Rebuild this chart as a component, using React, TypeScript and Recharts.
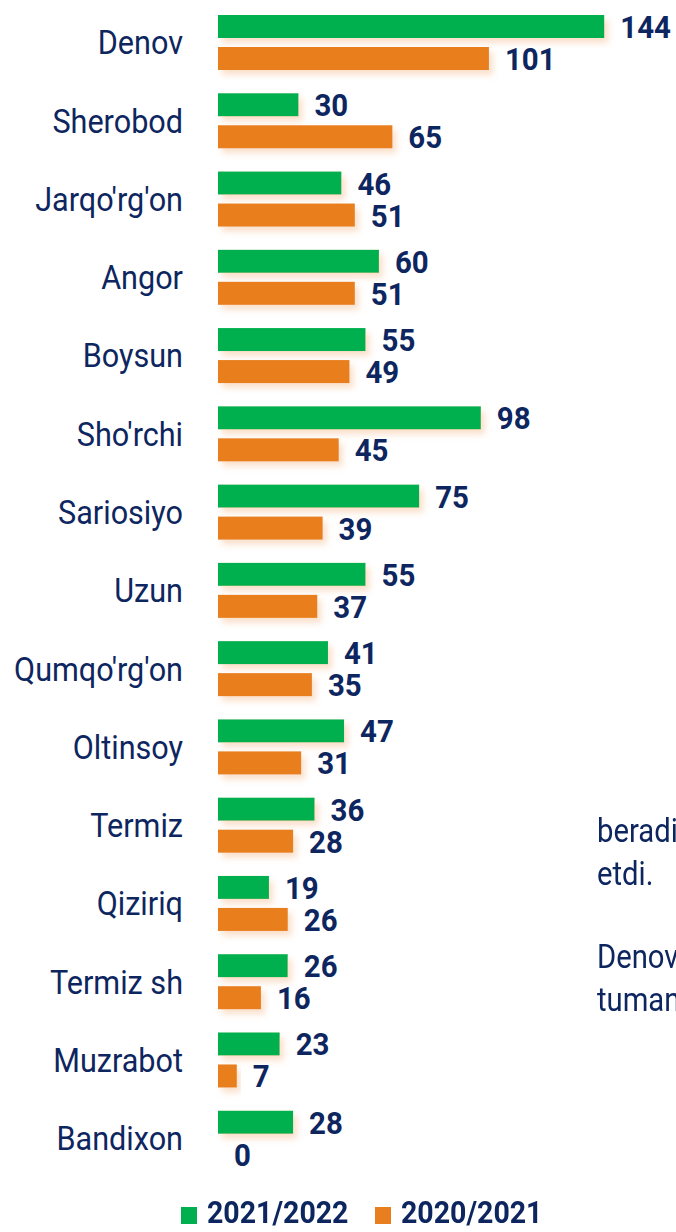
import React from 'react';
import { BarChart, Bar, XAxis, YAxis, LabelList, Legend } from 'recharts';

// district names, top to bottom
const districts = [
  'Denov', 'Sherobod', "Jarqo'rg'on", 'Angor', 'Boysun', "Sho'rchi", 'Sariosiyo', 'Uzun',
  "Qumqo'rg'on", 'Oltinsoy', 'Termiz', 'Qiziriq', 'Termiz sh', 'Muzrabot', 'Bandixon',
];
const values2122 = [144, 30, 46, 60, 55, 98, 75, 55, 41, 47, 36, 19, 26, 23, 28];
const values2021 = [101, 65, 51, 51, 49, 45, 39, 37, 35, 31, 28, 26, 16, 7, 0];
const seriesNames = ['2021/2022', '2020/2021'];

const GREEN = '#00B050';
const ORANGE = '#E97E1E';
const NAVY = '#0E2660';
const FONT = 'Roboto, "Noto Sans", sans-serif';

const data = districts.map((name, i) => ({
  name,
  cur: values2122[i],
  prev: values2021[i],
}));

// condensed look: Roboto squeezed horizontally
const CategoryTick = (props: any) => {
  const { x, y, payload } = props;
  return (
    <g transform={`translate(${x},${y}) scale(0.9,1)`}>
      <text x={0} y={0} dy="0.36em" textAnchor="end" fill={NAVY} fontFamily={FONT} fontSize={34}>
        {payload.value}
      </text>
    </g>
  );
};

const ValueLabel = (props: any) => {
  const { x, y, width, height, value } = props;
  const w = width < 1.5 ? 0 : width;
  const lx = x + w + 16;
  const ly = y + height / 2;
  return (
    <g transform={`translate(${lx},${ly}) scale(0.92,1)`}>
      <text x={0} y={0} dy="0.36em" fill={NAVY} fontFamily={FONT} fontWeight={700} fontSize={32}>
        {value}
      </text>
    </g>
  );
};

// zero values get a 1px placeholder so the label still shows; draw nothing for it
const BarShape = (props: any) => {
  const { x, y, width, height, fill } = props;
  if (width < 1.5) return <g />;
  return <rect x={x} y={y} width={width} height={height} fill={fill} filter="url(#barShadow)" />;
};

const LegendBox = () => (
  <div style={{ height: 53, display: 'flex', alignItems: 'flex-end', paddingLeft: 181, paddingBottom: 0, boxSizing: 'border-box' }}>
    {[GREEN, ORANGE].map((c, i) => (
      <div key={i} style={{ display: 'flex', alignItems: 'center', marginRight: i === 0 ? 32 : 0 }}>
        <span style={{ width: 16, height: 17, background: c, display: 'inline-block', marginTop: 4, marginRight: 10 }} />
        <span style={{ color: NAVY, fontFamily: FONT, fontWeight: 700, fontSize: 31, display: 'inline-block', transform: 'scaleX(0.92)', transformOrigin: 'left center', width: 136, whiteSpace: 'nowrap', lineHeight: '34px' }}>
          {seriesNames[i]}
        </span>
      </div>
    ))}
  </div>
);

const sideText: { lines: string[]; top: number }[] = [
  { lines: ['beradi', 'etdi.'], top: 809 },
  { lines: ['Denov', 'tuman'], top: 935 },
];

export default function App() {
  return (
    <div style={{ position: 'absolute', left: 0, top: 0, width: 676, height: 1232, overflow: 'hidden', background: '#fff' }}>
      <svg width={0} height={0} style={{ position: 'absolute' }}>
        <defs>
          <filter id="barShadow" x="-10%" y="-30%" width="130%" height="190%">
            <feDropShadow dx={4} dy={5} stdDeviation={3} floodColor="#F2A56B" floodOpacity={0.35} />
          </filter>
        </defs>
      </svg>
      {sideText.map((t) => (
        <div
          key={t.top}
          style={{
            position: 'absolute', left: 597, top: t.top, color: NAVY, fontFamily: FONT, fontSize: 34,
            lineHeight: '43px', transform: 'scaleX(0.86)', transformOrigin: 'left center', whiteSpace: 'nowrap',
          }}
        >
          {t.lines.map((l) => <div key={l}>{l}</div>)}
        </div>
      ))}
      <BarChart
        width={676}
        height={1232}
        data={data}
        layout="vertical"
        margin={{ top: 3, right: 2, bottom: 2, left: 0 }}
        barSize={23}
        barGap={9}
      >
        <XAxis type="number" domain={[0, 170]} hide />
        <YAxis
          type="category"
          dataKey="name"
          width={218}
          axisLine={false}
          tickLine={false}
          tickSize={0}
          tickMargin={35}
          tick={<CategoryTick />}
          interval={0}
        />
        <Legend verticalAlign="bottom" content={<LegendBox />} />
        <Bar dataKey="cur" name={seriesNames[0]} fill={GREEN} isAnimationActive={false} shape={<BarShape />}>
          <LabelList dataKey="cur" content={<ValueLabel />} />
        </Bar>
        <Bar dataKey="prev" name={seriesNames[1]} fill={ORANGE} isAnimationActive={false} minPointSize={1} shape={<BarShape />}>
          <LabelList dataKey="prev" content={<ValueLabel />} />
        </Bar>
      </BarChart>
    </div>
  );
}
